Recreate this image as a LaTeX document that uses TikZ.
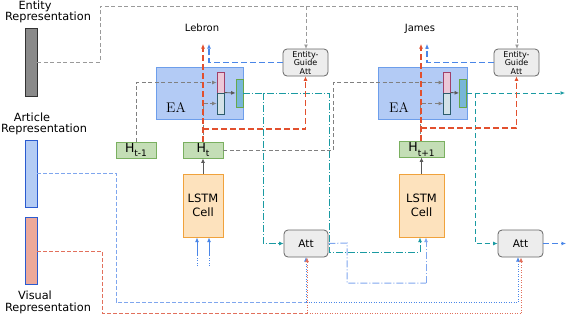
\documentclass[tikz,border=0pt]{standalone}
\usepackage{fontspec}
\newfontfamily\dv{DejaVu Sans}
\usetikzlibrary{arrows.meta}
\definecolor{cgray}{HTML}{808080}
\definecolor{cgrayl}{HTML}{9A9A9A}
\definecolor{cred}{HTML}{E2502E}
\definecolor{cblue}{HTML}{4A86E8}
\definecolor{cblueL}{HTML}{7FA6EE}
\definecolor{cteal}{HTML}{1A9AA2}
\definecolor{cbred}{HTML}{E2705C}
\definecolor{HTMLpink}{HTML}{A0406A}
\definecolor{HTMLpinkf}{HTML}{ECC8D8}
\definecolor{HTMLlow}{HTML}{2C5C6C}
\definecolor{HTMLlowf}{HTML}{D4E2E8}
\definecolor{HTMLgrn}{HTML}{66A84A}
\definecolor{HTMLgrnf}{HTML}{78B6D8}
\definecolor{HTMLhd}{HTML}{7AB060}
\definecolor{HTMLhf}{HTML}{C4DEB6}
\definecolor{HTMLld}{HTML}{F0A23C}
\definecolor{HTMLlf}{HTML}{FDE2BD}
\definecolor{HTMLart}{HTML}{B4CCF4}
\definecolor{HTMLvis}{HTML}{ECA99A}
\definecolor{HTMLbar}{HTML}{2A5BD0}
\definecolor{HTMLea}{HTML}{B3CBF5}
\definecolor{HTMLead}{HTML}{6D9EEB}
\tikzset{
  lbl/.style={font=\dv\fontsize{11.3}{12}\selectfont, inner sep=0pt},
  barbox/.style={draw, line width=0.9pt, minimum width=12pt, inner sep=0pt},
  eabox/.style={draw=HTMLead, fill=HTMLea, line width=0.8pt, inner sep=0pt},
  pinkbox/.style={draw=HTMLpink, fill=HTMLpinkf, line width=0.8pt, minimum width=7pt, minimum height=21pt, inner sep=0pt},
  lowbox/.style={draw=HTMLlow, fill=HTMLlowf, line width=0.8pt, minimum width=7pt, minimum height=21pt, inner sep=0pt},
  grnbox/.style={draw=HTMLgrn, fill=HTMLgrnf, line width=0.8pt, minimum width=7pt, minimum height=28pt, inner sep=0pt},
  hbox/.style={draw=HTMLhd, fill=HTMLhf, line width=0.8pt, minimum height=16pt, inner sep=0pt, font=\dv\fontsize{12.5}{12}\selectfont},
  lstmbox/.style={draw=HTMLld, fill=HTMLlf, line width=0.8pt, minimum height=63pt, inner sep=0pt, align=center, font=\dv\fontsize{11.5}{14}\selectfont},
  attbox/.style={draw=black!60, fill=black!7, line width=0.8pt, rounded corners=4pt, minimum height=27pt, minimum width=45pt, inner sep=0pt},
  eatext/.style={font=\fontsize{14}{14}\selectfont, inner sep=0pt},
  gline/.style={draw=cgray, line width=0.9pt, dash pattern=on 4pt off 2.5pt},
  gsolid/.style={draw=black!65, line width=0.9pt},
  rline/.style={draw=cred, line width=1.4pt, dash pattern=on 6pt off 3pt},
  bline/.style={draw=cblue, line width=1.2pt, dash pattern=on 6pt off 3pt},
  tdd/.style={draw=cteal, line width=0.9pt, dash pattern=on 7pt off 2pt on 1pt off 2pt},
  tdash/.style={draw=cteal, line width=0.9pt, dash pattern=on 5pt off 3pt},
  lbdd/.style={draw=cblueL, line width=1pt, dash pattern=on 7pt off 2pt on 1pt off 2pt},
  bdash/.style={draw=cblueL, line width=1pt, dash pattern=on 4pt off 2pt},
  rdash/.style={draw=cbred, line width=0.9pt, dash pattern=on 4pt off 2pt},
  bdot/.style={draw=cblue, line width=0.8pt, dash pattern=on 1pt off 1.5pt},
  rdot/.style={draw=cbred, line width=0.8pt, dash pattern=on 1pt off 1.5pt},
}
\begin{document}
\begin{tikzpicture}[x=1pt,y=-1pt, >={Latex[length=4.5pt,width=4pt]}]
\useasboundingbox (0,0) rectangle (568,322);

% left bars and labels
\node[lbl] (entA) at (35,6) {Entity};
\node[lbl] (entB) at (48,17.5) {Representation};
\node[barbox, fill=black!46, draw=black!80, minimum height=68pt] (ent) at (31,62) {};
\node[lbl] (artA) at (32,117) {Article};
\node[lbl] (artB) at (44,129.5) {Representation};
\node[barbox, fill=HTMLart, draw=HTMLbar, minimum height=67pt] (art) at (31,173.5) {};
\node[barbox, fill=HTMLvis, draw=HTMLbar, minimum height=67pt] (vis) at (31,250.5) {};
\node[lbl] (visA) at (35,295) {Visual};
\node[lbl] (visB) at (48,308) {Representation};

% word labels
\node[lbl, font=\dv\fontsize{10}{10}\selectfont] (leb) at (202,28) {Lebron};
\node[lbl, font=\dv\fontsize{10}{10}\selectfont] (jam) at (420,29) {James};

% EA blocks
\node[eabox, minimum width=87pt, minimum height=52pt] (ea1) at (199.5,93) {};
\node[eatext] (ea1t) at (176,107) {EA};
\node[eabox, minimum width=89pt, minimum height=52pt] (ea2) at (422.5,93) {};
\node[eatext] (ea2t) at (399,107) {EA};

% gray top entity line (under EGA)
\draw[gline, draw=cgrayl] (ent.east) -- (100,62) -- (100,6) -- (517,6) coordinate (topR);
\draw[gline, draw=cgrayl, ->] (topR) -- (517,49);
\draw[gline, draw=cgrayl, ->] (306,6) -- (306,49);

% Entity-guide att
\node[attbox, align=center, font=\dv\fontsize{8}{8.5}\selectfont] (ega1) at (305.5,62.5) {Entity-\\Guide\\Att};
\node[attbox, align=center, font=\dv\fontsize{8}{8.5}\selectfont] (ega2) at (516.5,62.5) {Entity-\\Guide\\Att};

% H boxes and LSTM
\node[hbox, minimum width=40pt] (htm) at (136,150) {H\raisebox{-4pt}{\fontsize{9}{9}\selectfont t-1}};
\node[hbox, minimum width=40pt] (ht) at (203,150) {H\raisebox{-4pt}{\fontsize{9}{9}\selectfont t}};
\node[hbox, minimum width=45pt] (htp) at (421.5,149) {H\raisebox{-5pt}{\fontsize{9}{9}\selectfont t+1}};
\node[lstmbox, minimum width=40pt] (lstm1) at (203,205.5) {LSTM\\Cell};
\node[lstmbox, minimum width=45pt] (lstm2) at (421.5,205.5) {LSTM\\Cell};

% Att boxes
\node[attbox, font=\dv\fontsize{10.5}{10.5}\selectfont, minimum width=44pt] (att1) at (306,243.5) {Att};
\node[attbox, font=\dv\fontsize{10.5}{10.5}\selectfont] (att2) at (520.5,243.5) {Att};

% inner rects
\node[pinkbox] (pink1) at (220.5,82.5) {};
\node[lowbox] (low1) at (220.5,103.5) {};
\node[grnbox] (grn1) at (239.5,93) {};
\node[pinkbox] (pink2) at (447,82.5) {};
\node[lowbox] (low2) at (447,103.5) {};
\node[grnbox] (grn2) at (463,93) {};

% gray hidden-state flows
\draw[gline, ->] (htm.north) |- (pink1.west);
\draw[gline] (ht.east) -- (333,150) coordinate (g1);
\draw[gline, ->] (g1) |- (pink2.west);
\draw[gline, ->] (ht.north) |- (low1.west);
\draw[gline, ->] (htp.north -| 420,0) |- (low2.west);
\draw[gsolid, ->] (low1.north east) -- (grn1.west);
\draw[gsolid, ->] (low2.north east) -- (grn2.west);
\draw[gsolid, ->] (lstm1.north) -- (ht.south);
\draw[gsolid, ->] (lstm2.north) -- (htp.south);

% teal flows
\draw[tdd] (grn1.east) -- (329,93) coordinate (t1) -- (329,252) -- (420,252) coordinate (t2);
\draw[tdd, ->] (t2) -- (420,237.5);
\draw[tdd, ->] (263,93) |- (att1.west);
\draw[tdash, ->] (grn2.east) -- (565,93) coordinate (tEnd);
\draw[tdash, ->] (475,93) |- (att2.west);
\draw[lbdd] (att1.east) -- (347,243) -- (347,283) -- (426,283) coordinate (b2);
\draw[lbdd, ->] (b2) -- (426,237.5);
\draw[bline, ->] (att2.east) -- (566,243.5) coordinate (bEnd);

% red and blue (entity guided) flows
\draw[rline, ->] (ht.north) -- (203,44) coordinate (r1);
\draw[rline, ->] (203,129) -| (ega1.south);
\draw[bline, ->] (ega1.west) -| (209,44);
\draw[rline, ->] (htp.north -| 421,0) -- (421,44) coordinate (r2);
\draw[rline, ->] (421,128) -| (ega2.south);
\draw[bline, ->] (ega2.west) -| (427,44);

% inputs to LSTM1
\draw[bdot] (197,266) -- (197,255);
\draw[cblue, line width=0.9pt, ->] (197,255) -- (197,237.5);
\draw[bdot] (209,266) -- (209,255);
\draw[cblue, line width=0.9pt, ->] (209,255) -- (209,237.5);

% bottom article and visual lines
\draw[bdash] (art.east |- 0,173) -- (116,173) -- (116,302) -- (306,302) coordinate (bj);
\draw[bdot, ->] (bj) -- (306,257);
\draw[bdot] (bj) -- (518,302) coordinate (bk);
\draw[bdot, ->] (bk) -- (518,257);
\draw[rdash] (vis.east |- 0,251) -- (102,251) -- (102,313) -- (307,313) coordinate (rj);
\draw[rdot, ->] (rj) -- (307,257.5);
\draw[rdot] (rj) -- (521,313) coordinate (rk);
\draw[rdot, ->] (rk) -- (521,257.5);
\end{tikzpicture}
\end{document}
